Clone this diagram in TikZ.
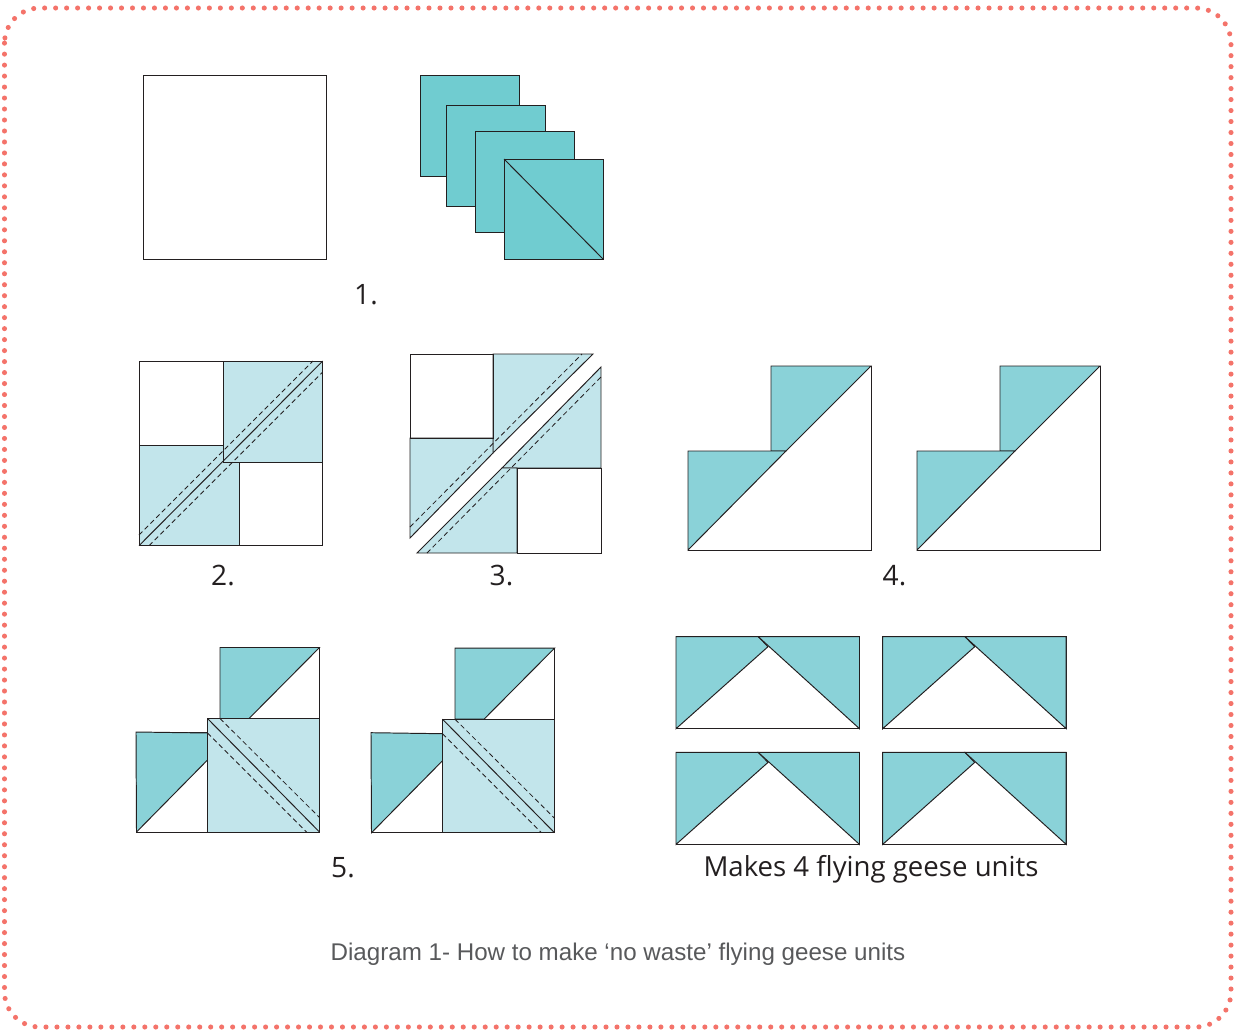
\documentclass[tikz,border=0pt]{standalone}
\usepackage{fontspec}
\setmainfont{Open Sans}
\newfontfamily\captionfont{Liberation Sans}
\usepackage{xcolor}
\definecolor{edgeDots}{HTML}{F4736A}
\definecolor{lineInk}{HTML}{231F20}
\definecolor{capGray}{HTML}{58595B}
\definecolor{tealSquare}{HTML}{70CCD0}
\definecolor{tealGoose}{HTML}{8AD2D8}
\definecolor{tealPale}{HTML}{C2E5EB}

\begin{document}
\begin{tikzpicture}[x=0.02cm, y=-0.02cm,
    every node/.style={text=lineInk},
    cut/.style={draw=lineInk, line width=0.55pt},
    square/.style={cut, fill=tealSquare},
    goose/.style={cut, fill=tealGoose},
    pale/.style={cut, fill=tealPale},
    seam/.style={draw=lineInk, line width=0.45pt, dash pattern=on 2.8pt off 1.8pt},
    stepnum/.style={font=\fontsize{16}{18}\selectfont}]
  \useasboundingbox (0,0) rectangle (1235,1032);
  \draw[edgeDots, line width=2.9pt, line cap=round, dash pattern=on 0pt off 6.25pt]
    (4.5,8) [rounded corners=20pt] rectangle (1231,1027);

  % step 1
  \draw[cut] (143.7,75) rectangle (326.7,259.6);
  \draw[square] (420,75) rectangle (519.6,176);
  \draw[square] (446,105) rectangle (545.6,206);
  \draw[square] (475,131) rectangle (574.6,232);
  \draw[square] (504,159) rectangle (603.6,259.6);
  \draw[cut] (504,159) -- (603.6,259.6);
  \node[stepnum] (one) at (366,295) {1.};

  % step 2
  \draw[pale] (223,361) -- (322.7,361) -- (322.7,462) -- (239,462) -- (239,545.7) -- (139,545.7) -- (139,445) -- (223,445) -- cycle;
  \draw[cut] (223,445) -- (223,462) -- (239,462);
  \draw[cut] (139,361) rectangle (223,445);
  \draw[cut] (239,462) rectangle (322.7,545.7);
  \draw[cut] (139,545.7) -- (322.7,361);
  \draw[seam] (139,535) -- (313,361);
  \draw[seam] (149,545.7) -- (322.7,372);
  \node[stepnum] (two) at (223,576) {2.};

  % step 3
  \draw[pale] (493,354) -- (593,354) -- (493,453) -- cycle;
  \draw[pale] (410,438) -- (493,438) -- (493,453) -- (410,538) -- cycle;
  \draw[cut] (410,354) rectangle (493,438);
  \draw[seam] (410,527) -- (582,354);
  \draw[pale] (601,367) -- (601,468) -- (502,468) -- cycle;
  \draw[pale] (417,553) -- (517,553) -- (517,468) -- (502,468) -- cycle;
  \draw[cut] (517,468) rectangle (601,553);
  \draw[seam] (427,553) -- (601,377);
  \node[stepnum] (three) at (501.5,576) {3.};

  % step 4
  \foreach \dx in {0,229} {
    \begin{scope}[xshift=\dx*0.02cm]
      \draw[cut, fill=white] (771,366) -- (871,366) -- (871,550) -- (688,550) -- (688,451) -- (771,451) -- cycle;
      \draw[goose] (771,366) -- (871,366) -- (786,451) -- (771,451) -- cycle;
      \draw[goose] (688,451) -- (786,451) -- (688,550) -- cycle;
    \end{scope}
  }
  \node[stepnum] (four) at (894.5,576) {4.};

  % step 5
  \foreach \dx/\dy in {0/0,235/0.7} {
    \begin{scope}[xshift=\dx*0.02cm, yshift=-\dy*0.02cm]
      \draw[cut] (220,647.5) rectangle (319.5,718.5);
      \draw[goose] (220,647.5) -- (319.5,647.5) -- (249,718.5) -- (220,718.5) -- cycle;
      \draw[cut] (136.5,732.5) -- (207.5,732.5) -- (207.5,832) -- (136.5,832) -- cycle;
      \draw[goose] (136,732) -- (207.5,733) -- (207.5,760) -- (136.5,832) -- cycle;
      \draw[pale] (207.5,718.5) rectangle (319.5,832);
      \draw[cut] (207.5,718.5) -- (319.5,832);
      \draw[seam] (220,718.5) -- (319.5,817.5);
      \draw[seam] (207.5,733) -- (306.5,832);
    \end{scope}
  }
  \node[stepnum] (five) at (343,868) {5.};

  % flying geese units
  \foreach \dx/\dy in {0/0,206.7/0,0/115.7,206.7/115.7} {
    \begin{scope}[xshift=\dx*0.02cm, yshift=-\dy*0.02cm]
      \draw[cut] (676,636.7) rectangle (859.5,728.7);
      \draw[goose] (676,636.7) -- (758.3,636.7) -- (768,646.7) -- (676,728.7) -- cycle;
      \draw[goose] (758.3,636.7) -- (859.5,636.7) -- (859.5,728.7) -- cycle;
    \end{scope}
  }
  \node[font=\fontsize{15.7}{18}\selectfont] (makes) at (871,869.5) {Makes 4 flying geese units};

  \node[font=\captionfont\fontsize{13.75}{16}\selectfont, text=capGray] (caption) at (618,954)
    {Diagram 1- How to make ‘no waste’ flying geese units};
\end{tikzpicture}
\end{document}
